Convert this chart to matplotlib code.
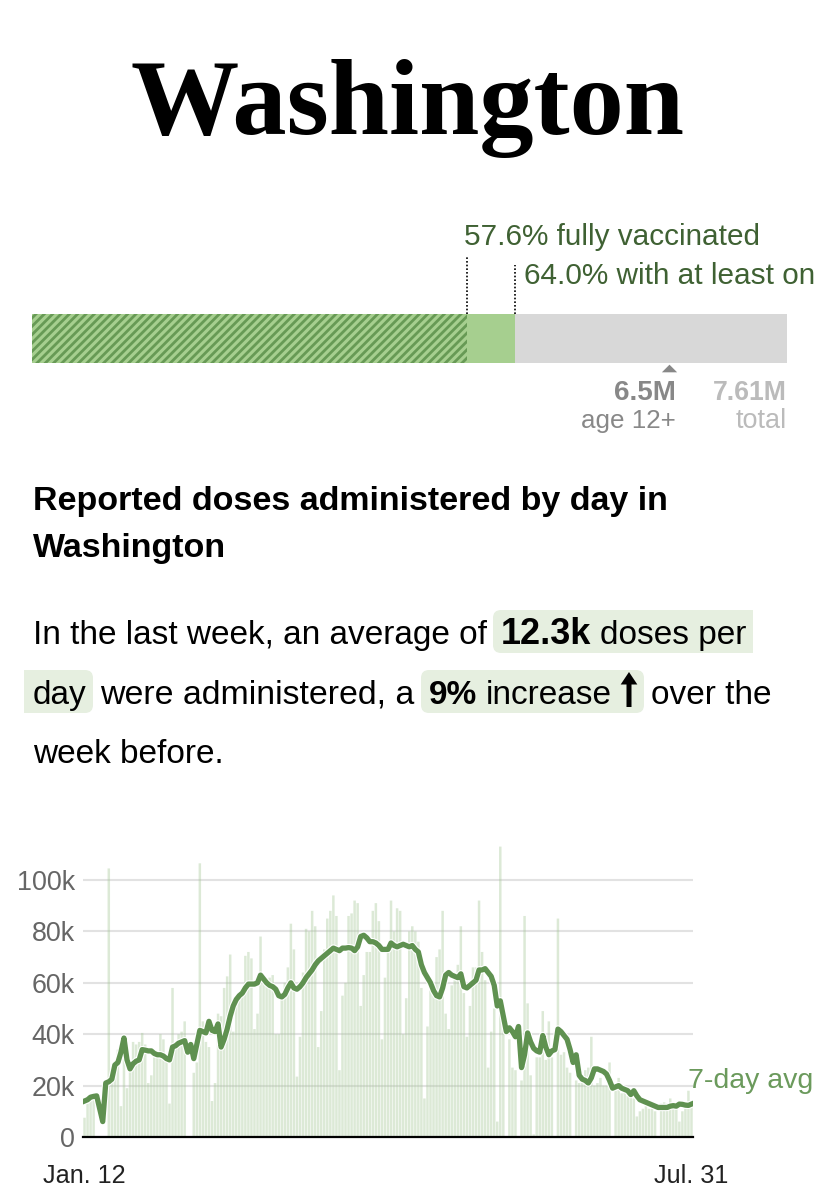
import matplotlib
matplotlib.use('Agg')
import matplotlib.pyplot as plt
import matplotlib.patheffects as pe
from matplotlib.patches import FancyBboxPatch, Rectangle

W, H = 817, 1200

# state numbers
state = 'Washington'
fully_pct = 57.6
one_dose_pct = 64.0
age12_pct = 84.4

# daily doses, in thousands (Jan. 12 to Jul. 31)
daily = [
    7.5, 13, 15, 16, 0, 0, 0, 0, 104.5, 26.5,
    28, 34, 12, 38, 19, 26, 37, 36, 37, 40.5,
    36, 21, 24, 31, 33, 40, 38, 32, 13, 58,
    36, 40, 41, 45, 0, 0, 25, 29, 106.5, 45,
    37, 35, 14, 21, 48, 47, 58, 62.5, 71, 41,
    54, 54, 56, 70.5, 72, 69.5, 42, 48, 78, 62,
    60, 62, 63, 40, 40, 54, 60, 66, 83, 73,
    23.5, 39, 64, 81, 80, 88, 82, 35, 49, 73,
    85, 88, 94, 86, 26, 55, 60, 86, 87, 92,
    91, 51, 63, 72, 72, 88, 91, 84, 38, 62,
    72, 92, 80, 89, 88, 40, 54, 80, 82, 80,
    76, 58, 15, 43, 57, 55, 70, 73, 88, 48,
    42, 59, 61, 67, 82, 56, 39, 51, 66, 66,
    92, 72, 61, 27, 41, 50, 6, 113, 50, 0,
    38, 27, 26, 0, 22, 86, 52, 24, 1, 31,
    31, 49, 30, 45, 31, 0, 85, 32, 33, 27,
    25, 0, 22, 21, 21, 26, 27, 39, 20, 21,
    23, 20, 20, 29, 0, 18, 23, 17, 18, 16,
    16, 15, 8, 10, 11, 12, 11, 11, 10, 0,
    13, 13.5, 13, 15, 12, 12, 6, 10, 11, 18, 14,
]

# 7-day average, in thousands
avg7 = [
    14, 14.5, 15.5, 15.8, 16, 11, 6, 21, 21.5, 22.5,
    28, 29, 33, 38.5, 30, 26.5, 28.5, 29.5, 30, 34,
    33.8, 33.5, 33.5, 32.5, 32, 32, 31.5, 30.5, 30, 35,
    35.5, 36.5, 37, 37.5, 33, 36, 30.5, 36, 41.5, 41,
    40.5, 45, 41.5, 41, 44, 35, 38, 42, 47, 51,
    53.5, 55, 56, 58, 59.5, 59.5, 59.5, 60, 63, 61.5,
    60, 59, 58.5, 57.5, 55, 54.5, 55.5, 58, 60, 58,
    57.5, 58.5, 60, 62, 63.5, 65, 67, 68.5, 69.5, 70.5,
    71.5, 72.5, 73.5, 73, 72.5, 73.5, 73.5, 73.7, 73.5, 72.5,
    74, 78, 78.5, 77.5, 76, 76, 75.5, 74.5, 73, 73,
    73, 75.5, 74.5, 74, 74.5, 75, 74.5, 74, 74.5, 73,
    72, 67, 64, 62, 60, 57, 55, 54.5, 58, 63,
    64, 63, 62.5, 62, 63.5, 58.5, 58, 59, 60, 61,
    65, 65, 65.5, 64, 62.5, 59, 51, 53, 47, 41,
    42.5, 41, 39, 43, 27, 32, 40.5, 37, 34.5, 33.5,
    33, 39.5, 35, 32, 33.5, 34, 42, 41, 39.5, 38,
    34, 29, 32, 24, 22.5, 22, 21, 23, 26.5, 26.5,
    26, 25.5, 24.5, 22, 19, 19.5, 20, 19, 18.5, 18,
    16.5, 18, 16, 14.5, 14, 13.5, 13, 12.5, 12, 11.5,
    11.5, 11.5, 11.5, 12, 12.2, 12, 12.8, 12.7, 12.4, 12.3, 12.8,
]

y_ticks = [0, 20, 40, 60, 80, 100]
y_labels = ['0', '20k', '40k', '60k', '80k', '100k']
x_labels = ['Jan. 12', 'Jul. 31']

SANS = 'Liberation Sans'
SERIF = 'Liberation Serif'
GREEN = '#5f9150'
DARK_GREEN = '#3f6133'
HILITE = '#e6efe0'


def px_axes(fig, left, top, right, bottom):
    return fig.add_axes([left / W, 1 - bottom / H, (right - left) / W, (bottom - top) / H])


def main():
    plt.rcParams['font.family'] = SANS
    plt.rcParams['hatch.linewidth'] = 2.0
    fig = plt.figure(figsize=(W / 100, H / 100), dpi=100)

    # page overlay in pixels, for text and highlights
    page = fig.add_axes([0, 0, 1, 1], zorder=0)
    page.set_xlim(0, W)
    page.set_ylim(H, 0)
    page.axis('off')

    page.text(408, 134, state, family=SERIF, weight='bold', fontsize=78, ha='center', va='baseline', color='black')

    # vaccination bar
    bar = px_axes(fig, 32, 314, 787, 363)
    bar.set_xlim(0, 100)
    bar.set_ylim(0, 1)
    bar.axis('off')
    bar.barh(0.5, 100, height=1, color='#d8d8d8', linewidth=0)
    bar.barh(0.5, one_dose_pct, height=1, color='#a6cf8f', linewidth=0)
    bar.barh(0.5, fully_pct, height=1, facecolor='#a6cf8f', edgecolor='#679a55', hatch='////', linewidth=0)
    for pct, rise in [(fully_pct, 1.17), (one_dose_pct, 1.0)]:
        bar.plot([pct, pct], [1, 1 + rise], color='black', lw=1.2, ls=(0, (1, 1.2)), clip_on=False)
    bar.plot([age12_pct], [-0.1], marker=[(-1, -0.5), (1, -0.5), (0, 0.5)], ms=11, color='#888888', mew=0, clip_on=False)

    page.text(464, 245, '%.1f%% fully vaccinated' % fully_pct, fontsize=21.4, color=DARK_GREEN)
    page.text(524, 284, '%.1f%% with at least on' % one_dose_pct, fontsize=21.4, color=DARK_GREEN)
    page.text(676, 400, '6.5M', fontsize=20, weight='bold', color='#888888', ha='right')
    page.text(676, 428, 'age 12+', fontsize=18.7, color='#888888', ha='right')
    page.text(787, 400, '7.61M', fontsize=19.2, weight='bold', color='#bbbbbb', ha='right')
    page.text(787, 428, 'total', fontsize=19.5, color='#bbbbbb', ha='right')

    # heading
    page.text(33, 510, 'Reported doses administered by day in', fontsize=24.5, weight='bold', color='black')
    page.text(33, 557, state, fontsize=24.5, weight='bold', color='black')

    # highlights behind the sentence
    boxes = [(493, 610, 250, 43), (34, 670, 59, 43), (421, 670, 223, 43)]
    for x, y, w, h in boxes:
        page.add_patch(FancyBboxPatch((x + 8, y + 8), w - 16, h - 16, boxstyle='round,pad=8,rounding_size=8',
                                      fc=HILITE, ec='none', zorder=1))
    page.add_patch(Rectangle((735, 610), 18, 43, fc=HILITE, ec='none', zorder=1))
    page.add_patch(Rectangle((24, 670), 30, 43, fc=HILITE, ec='none', zorder=1))

    # sentence pieces: x, baseline, text, weight, size
    pieces = [
        (33, 644, 'In the last week, an average of', 'normal', 24),
        (501, 644, '12.3k', 'bold', 26),
        (600, 644, 'doses per', 'normal', 24),
        (33, 704, 'day', 'normal', 24),
        (100, 704, 'were administered, a', 'normal', 24.4),
        (429, 704, '9%', 'bold', 24),
        (486, 704, 'increase', 'normal', 24),
        (651, 704, 'over the', 'normal', 24),
        (33, 763, 'week before.', 'normal', 24),
    ]
    for x, y, s, w, size in pieces:
        page.text(x, y, s, fontsize=size, weight=w, color='black', zorder=2)
    page.annotate('', xy=(629, 672), xytext=(629, 707), zorder=2,
                  arrowprops=dict(width=3.6, headwidth=12, headlength=9, fc='black', ec='none', shrink=0))

    # daily doses chart
    ax = px_axes(fig, 83, 840, 693, 1137)
    ax.set_xlim(-0.5, 200.5)
    ax.set_ylim(0, 297 / 2.57)
    ax.patch.set_alpha(0)
    ax.set_axisbelow(True)
    ax.grid(axis='y', color='#e2e2e2', lw=1.5)
    ax.grid(axis='x', visible=False)
    days = list(range(len(daily)))
    bars = ax.bar(days, daily, width=0.82, color='#a3c795', alpha=0.38, linewidth=0, zorder=2)
    for b in bars:
        b.set_snap(False)
    ax.plot(days, avg7, color=GREEN, lw=3.8, zorder=4, solid_joinstyle='round',
            path_effects=[pe.Stroke(linewidth=5.4, foreground='white'), pe.Normal()])
    for side in ['top', 'right', 'left']:
        ax.spines[side].set_visible(False)
    ax.spines['bottom'].set_color('black')
    ax.spines['bottom'].set_linewidth(1.6)
    ax.spines['bottom'].set_zorder(5)
    ax.set_yticks(y_ticks)
    ax.set_yticklabels(y_labels, fontsize=19.4, color='#666666')
    ax.set_xticks([0, len(daily) - 1])
    ax.set_xticklabels(x_labels, fontsize=18.2, color='#222222')
    ax.tick_params(axis='y', length=0, pad=6)
    ax.tick_params(axis='x', length=0, pad=19.5)
    for lab in ax.get_yticklabels():
        lab.set_va('center_baseline')

    page.text(688, 1088, '7-day avg', fontsize=20.5, color='#6b9a5c')

    fig.savefig('out.png', dpi=100, facecolor='white')


if __name__ == '__main__':
    main()
